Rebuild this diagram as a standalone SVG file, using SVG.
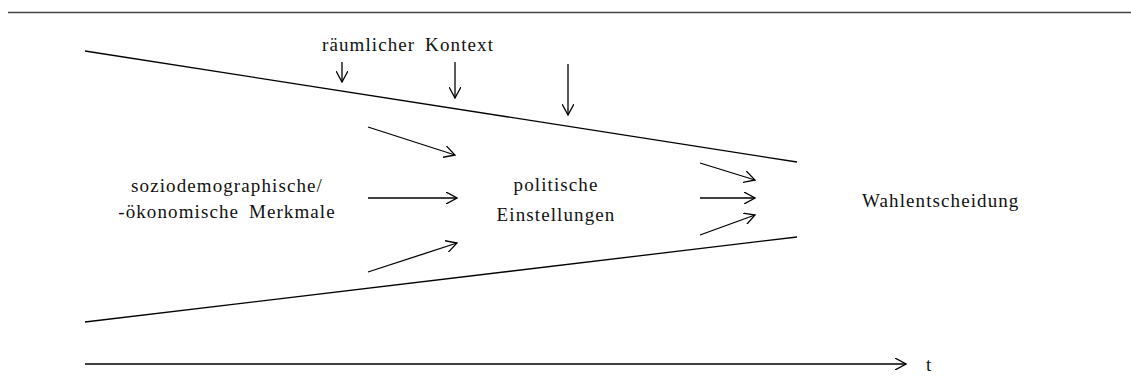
<svg xmlns="http://www.w3.org/2000/svg" width="1131" height="383" viewBox="0 0 1131 383">
<style>
.ln{stroke:#000;stroke-width:1.3;fill:none}
.ar{stroke:#000;stroke-width:1.3;fill:none;marker-end:url(#v)}
.tx{font-family:"Liberation Serif","Times New Roman",serif;font-size:19px;letter-spacing:1.1px;word-spacing:4px;fill:#111}
</style>
<defs>
<marker id="v" viewBox="0 0 12 12" refX="11" refY="6" markerWidth="12" markerHeight="12" markerUnits="userSpaceOnUse" orient="auto">
<path d="M0,0 L11,6 L0,12" fill="none" stroke="#000" stroke-width="1.3"/>
</marker>
</defs>
<rect width="1131" height="383" fill="#fff"/>
<line x1="8" y1="12.5" x2="1131" y2="12.5" stroke="#444" stroke-width="1.6"/>
<g id="funnel">
<line class="ln" x1="85" y1="51" x2="797" y2="162"/>
<line class="ln" x1="85" y1="322" x2="797" y2="237"/>
</g>
<g id="context"><text class="tx" x="408" y="51" text-anchor="middle">räumlicher Kontext</text></g>
<g id="socio"><text class="tx" x="227" y="192" text-anchor="middle">soziodemographische/</text><text class="tx" x="227" y="218" text-anchor="middle">-ökonomische Merkmale</text></g>
<g id="polit"><text class="tx" x="556" y="191" text-anchor="middle">politische</text><text class="tx" x="556" y="221" text-anchor="middle">Einstellungen</text></g>
<g id="wahl"><text class="tx" x="862" y="207">Wahlentscheidung</text></g>
<g id="time"><text class="tx" x="926" y="371">t</text></g>
<g id="connectors">
<line class="ar" x1="342" y1="62" x2="342" y2="82"/>
<line class="ar" x1="455" y1="62" x2="455" y2="98"/>
<line class="ar" x1="568" y1="64" x2="568" y2="115"/>
<line class="ar" x1="368" y1="127" x2="455" y2="155"/>
<line class="ar" x1="368" y1="198" x2="457" y2="198"/>
<line class="ar" x1="368" y1="272" x2="457" y2="243"/>
<line class="ar" x1="700" y1="163" x2="755" y2="180"/>
<line class="ar" x1="700" y1="198" x2="755" y2="198"/>
<line class="ar" x1="700" y1="235" x2="755" y2="215"/>
<line class="ar" x1="85" y1="364" x2="906" y2="364"/>
</g>
</svg>
